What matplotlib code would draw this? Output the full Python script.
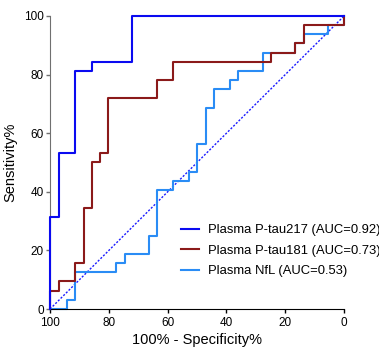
import matplotlib
matplotlib.use("Agg")
import matplotlib.pyplot as plt

plt.rcParams['font.family'] = ['Liberation Sans', 'DejaVu Sans']

# ROC corner points (100% - specificity, sensitivity), step drawn as steps-post
tau217_x = [100, 100, 96.9, 91.4, 85.8, 72.0, 0]
tau217_y = [0, 31.25, 53.1, 81.25, 84.4, 100, 100]

tau181_x = [100, 100, 97.1, 91.4, 88.6, 85.7, 83.0, 80.2, 63.7, 58.2, 24.8, 16.7, 13.8, 0]
tau181_y = [0, 6.25, 9.4, 15.6, 34.4, 50.0, 53.1, 71.9, 78.1, 84.4, 87.5, 90.6, 96.9, 100]

nfl_x = [100, 94.3, 91.4, 77.4, 74.6, 66.4, 63.7, 58.3, 52.7, 49.9, 47.0, 44.2,
         38.8, 36.0, 27.7, 16.7, 13.8, 5.5, 0]
nfl_y = [0, 3.1, 12.5, 15.6, 18.75, 25.0, 40.6, 43.75, 46.9, 56.25, 68.75, 75.0,
         78.1, 81.25, 87.5, 90.6, 93.75, 96.9, 100]

labels = ['Plasma P-tau217 (AUC=0.92)', 'Plasma P-tau181 (AUC=0.73)', 'Plasma NfL (AUC=0.53)']
colors = ['#0a0af0', '#8b1a1a', '#2a8cf5']

fig = plt.figure(figsize=(3.79, 3.54), dpi=100)
ax = fig.add_axes([0.132, 0.127, 0.776, 0.828])

# reference diagonal
ax.plot([100, 0], [0, 100], color='#1a1aff', lw=1.0, ls=(0, (1.5, 1.2)), clip_on=False, zorder=1)

curves = [(tau217_x, tau217_y), (tau181_x, tau181_y), (nfl_x, nfl_y)]
zorders = [4, 3, 2]
for (xs, ys), c, lab, z in zip(curves, colors, labels, zorders):
    ax.plot(xs, ys, drawstyle='steps-post', color=c, lw=1.5, label=lab, clip_on=False, zorder=z)

ax.set_xlim(100, 0)
ax.set_ylim(0, 100)
ax.set_xticks([100, 80, 60, 40, 20, 0])
ax.set_yticks([0, 20, 40, 60, 80, 100])

for s in ['top', 'right']:
    ax.spines[s].set_visible(False)
ax.spines['left'].set_color('#707070')
ax.spines['bottom'].set_color('black')
ax.tick_params(axis='both', direction='out', length=3, width=1, labelsize=8.5, pad=1.5)
ax.tick_params(axis='y', color='#707070')
ax.tick_params(axis='x', pad=2.5)

ax.set_xlabel('100% - Specificity%', fontsize=10.5, labelpad=3)
ax.set_ylabel('Sensitivity%', fontsize=10.5, labelpad=5)

ax.legend(loc='upper left', bbox_to_anchor=(0.445, 0.29), frameon=False, fontsize=9.4,
          handlelength=1.4, handletextpad=0.7, labelspacing=0.64, borderpad=0,
          borderaxespad=0)

fig.savefig('out.png', dpi=100)
